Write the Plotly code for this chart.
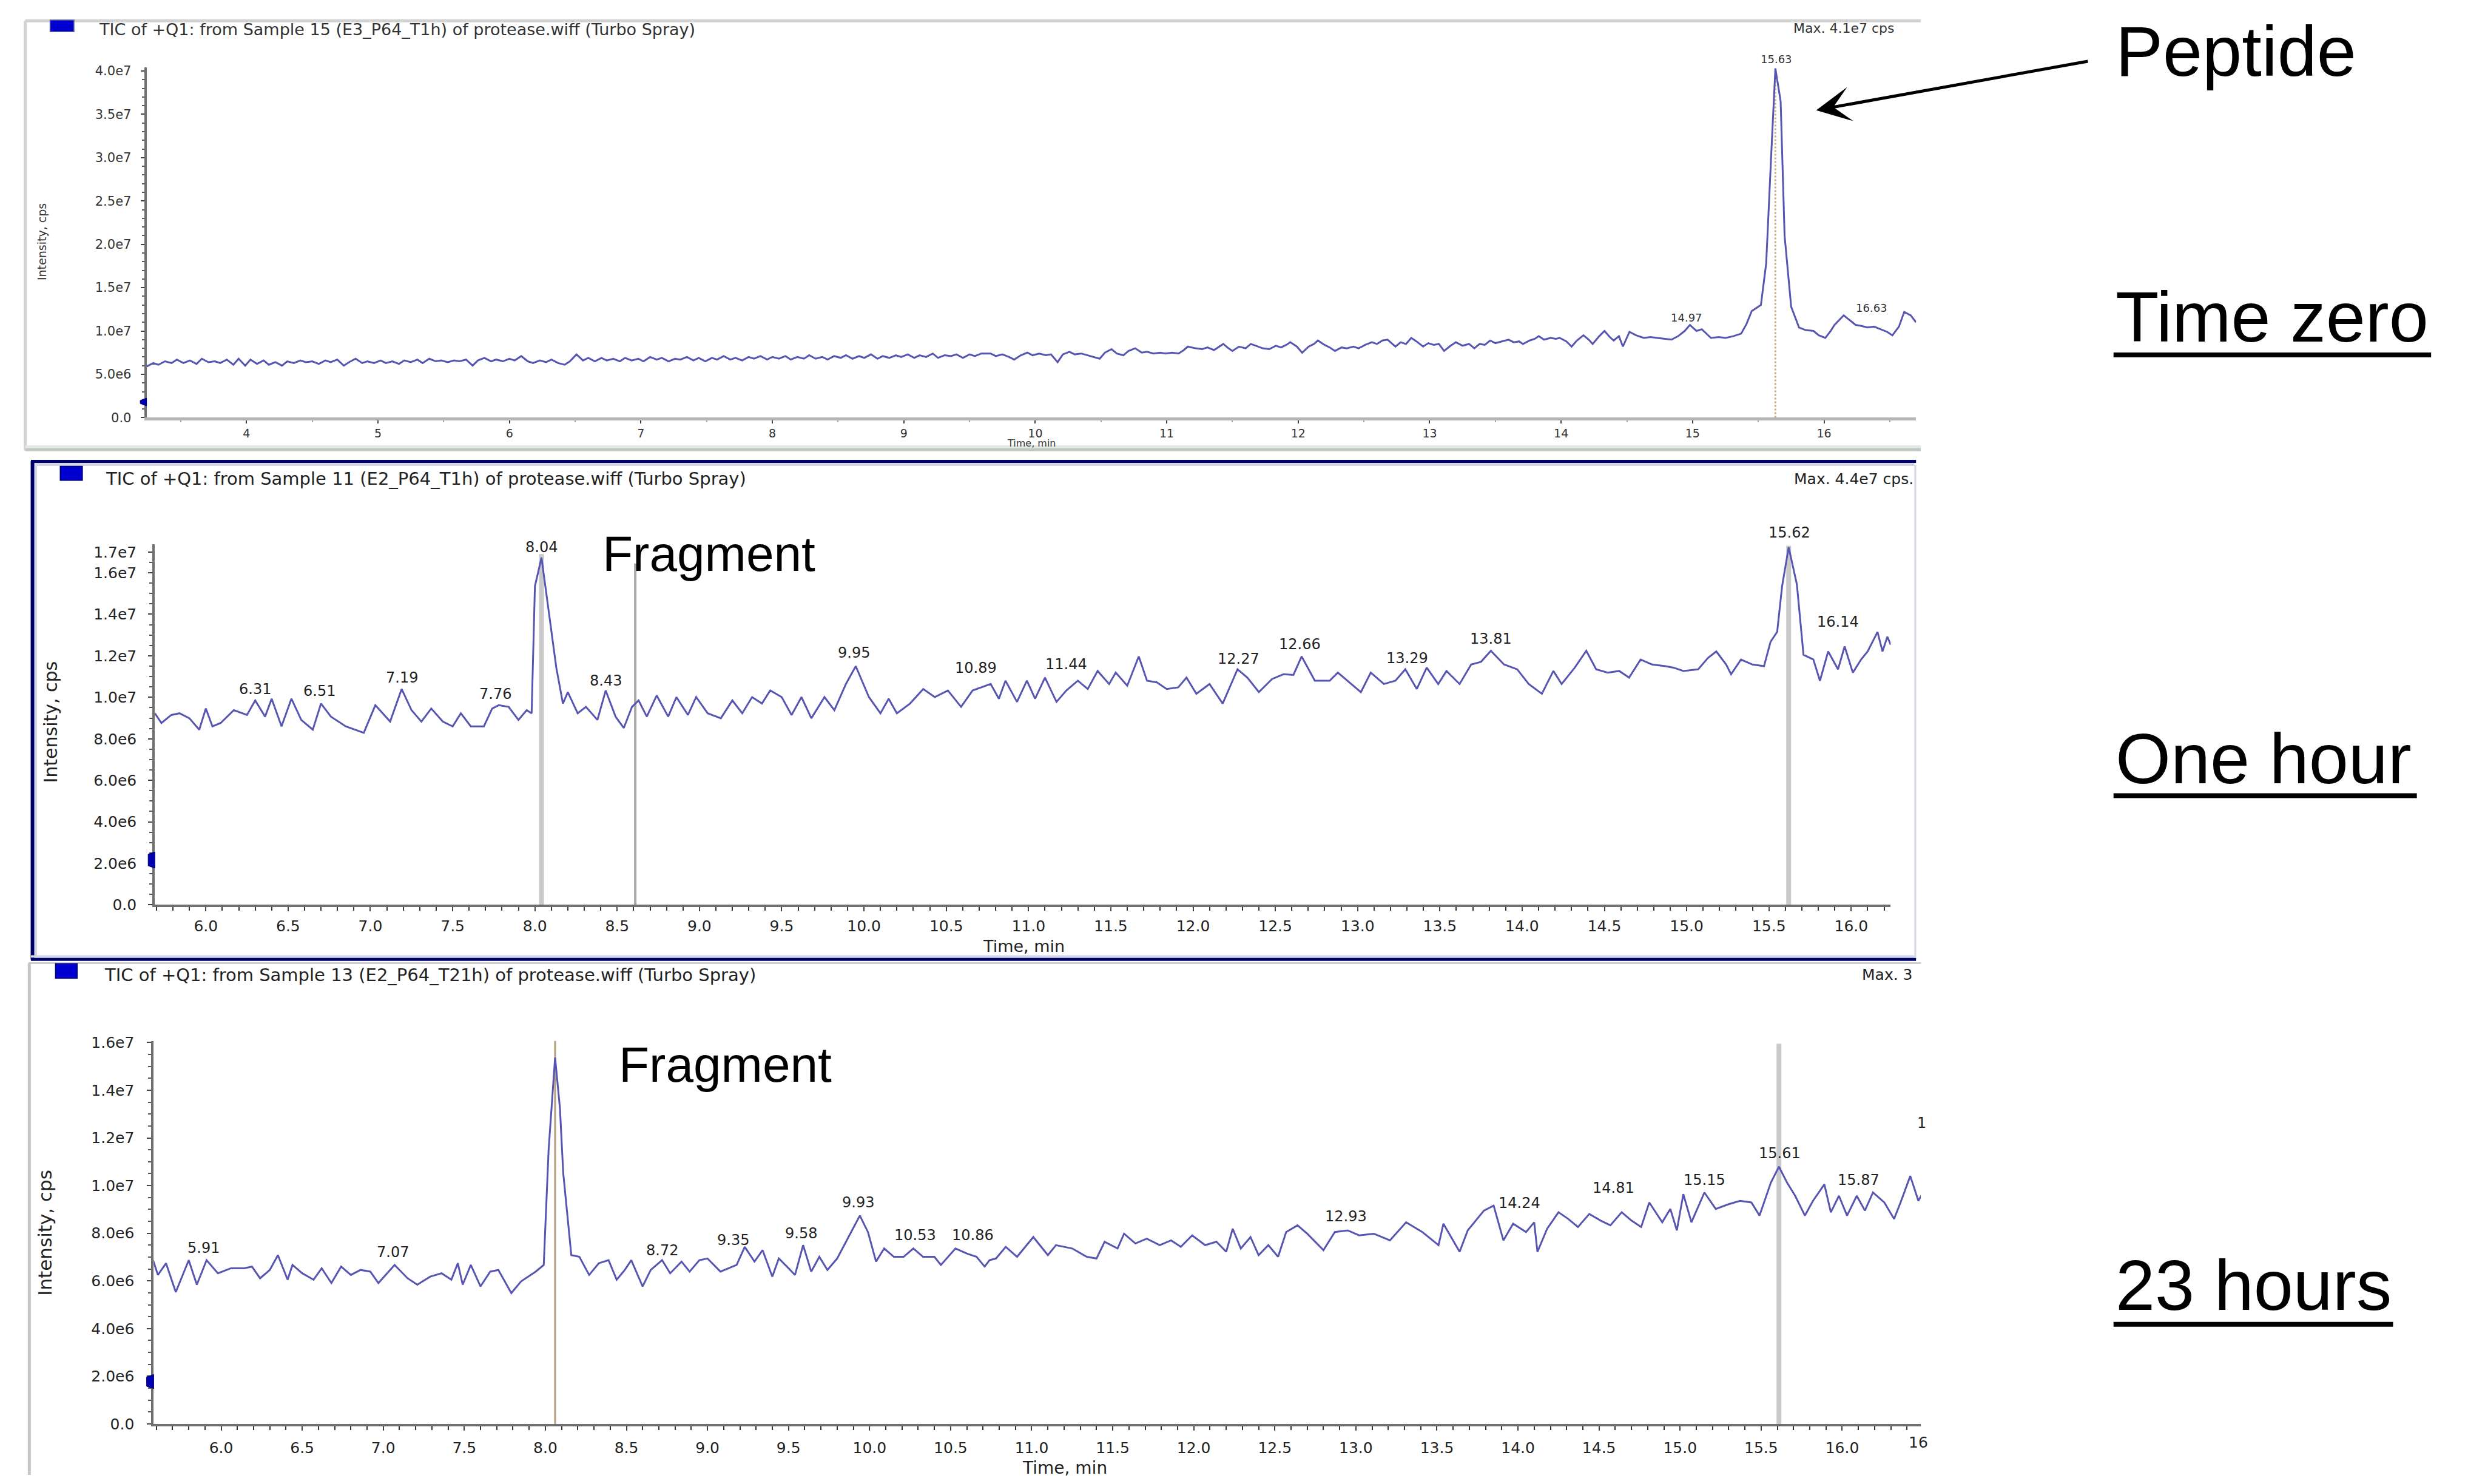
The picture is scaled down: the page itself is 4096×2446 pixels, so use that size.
import plotly.graph_objects as go

# ---------------- data: retention time (min) and intensity (x1e6 cps) ----------------
p1_time = [3.24, 3.29, 3.33, 3.38, 3.43, 3.47, 3.52, 3.57, 3.62, 3.66,
           3.71, 3.76, 3.80, 3.85, 3.90, 3.94, 3.99, 4.03, 4.08, 4.13,
           4.17, 4.22, 4.27, 4.31, 4.36, 4.41, 4.45, 4.50, 4.55, 4.60,
           4.64, 4.69, 4.74, 4.78, 4.83, 4.88, 4.92, 4.97, 5.02, 5.06,
           5.11, 5.16, 5.20, 5.25, 5.30, 5.34, 5.39, 5.44, 5.48, 5.53,
           5.58, 5.62, 5.67, 5.72, 5.76, 5.81, 5.86, 5.90, 5.95, 6.00,
           6.04, 6.09, 6.14, 6.18, 6.23, 6.28, 6.32, 6.37, 6.42, 6.46,
           6.51, 6.56, 6.60, 6.65, 6.70, 6.74, 6.79, 6.84, 6.88, 6.93,
           6.98, 7.02, 7.07, 7.12, 7.16, 7.21, 7.26, 7.30, 7.35, 7.40,
           7.44, 7.49, 7.54, 7.58, 7.63, 7.68, 7.72, 7.77, 7.82, 7.86,
           7.91, 7.96, 8.00, 8.05, 8.10, 8.14, 8.19, 8.24, 8.28, 8.33,
           8.38, 8.42, 8.47, 8.52, 8.56, 8.61, 8.66, 8.70, 8.75, 8.80,
           8.84, 8.89, 8.94, 8.98, 9.03, 9.08, 9.12, 9.17, 9.22, 9.26,
           9.31, 9.36, 9.40, 9.45, 9.50, 9.54, 9.59, 9.66, 9.70, 9.75,
           9.80, 9.84, 9.89, 9.94, 9.98, 10.03, 10.08, 10.12, 10.17, 10.21,
           10.26, 10.30, 10.35, 10.40, 10.44, 10.49, 10.53, 10.58, 10.62, 10.67,
           10.71, 10.76, 10.81, 10.85, 10.90, 10.95, 10.99, 11.04, 11.09, 11.13,
           11.16, 11.22, 11.27, 11.31, 11.36, 11.40, 11.43, 11.47, 11.50, 11.55,
           11.60, 11.64, 11.69, 11.73, 11.78, 11.83, 11.87, 11.91, 11.94, 11.99,
           12.03, 12.08, 12.12, 12.15, 12.20, 12.24, 12.28, 12.33, 12.37, 12.42,
           12.46, 12.51, 12.56, 12.60, 12.64, 12.68, 12.71, 12.74, 12.78, 12.82,
           12.86, 12.90, 12.95, 12.99, 13.03, 13.07, 13.11, 13.16, 13.20, 13.25,
           13.30, 13.34, 13.38, 13.42, 13.46, 13.50, 13.55, 13.60, 13.64, 13.68,
           13.71, 13.76, 13.80, 13.83, 13.87, 13.92, 13.96, 13.99, 14.04, 14.08,
           14.12, 14.17, 14.21, 14.24, 14.29, 14.33, 14.37, 14.40, 14.44, 14.47,
           14.52, 14.57, 14.63, 14.68, 14.73, 14.79, 14.84, 14.89, 14.94, 14.98,
           15.03, 15.07, 15.11, 15.14, 15.20, 15.25, 15.31, 15.37, 15.41, 15.45,
           15.52, 15.56, 15.60, 15.63, 15.67, 15.70, 15.75, 15.81, 15.86, 15.92,
           15.96, 16.01, 16.05, 16.08, 16.15, 16.20, 16.24, 16.28, 16.33, 16.38,
           16.43, 16.48, 16.52, 16.57, 16.61, 16.66, 16.70]
p1_int = [5.9, 6.3, 6.1, 6.5, 6.3, 6.7, 6.3, 6.6, 6.2, 6.8,
          6.4, 6.5, 6.3, 6.7, 6.1, 6.8, 6.0, 6.7, 6.2, 6.6,
          6.1, 6.4, 6.0, 6.5, 6.3, 6.6, 6.4, 6.5, 6.2, 6.6,
          6.4, 6.7, 6.0, 6.4, 6.8, 6.3, 6.5, 6.3, 6.6, 6.3,
          6.5, 6.2, 6.6, 6.4, 6.7, 6.3, 6.8, 6.5, 6.6, 6.4,
          6.6, 6.5, 6.7, 6.0, 6.6, 6.9, 6.5, 6.7, 6.5, 6.8,
          6.6, 7.1, 6.5, 6.3, 6.6, 6.4, 6.7, 6.3, 6.1, 6.5,
          7.3, 6.6, 6.9, 6.5, 6.9, 6.6, 6.8, 6.5, 6.9, 6.6,
          6.8, 6.5, 7.0, 6.7, 6.9, 6.5, 6.8, 6.7, 7.0, 6.6,
          6.9, 6.5, 6.9, 6.7, 7.1, 6.7, 6.9, 6.6, 7.0, 6.8,
          7.1, 6.7, 7.0, 6.8, 7.1, 6.7, 7.0, 6.8, 7.2, 6.8,
          7.0, 6.7, 7.1, 6.9, 7.2, 6.8, 7.1, 6.9, 7.3, 6.8,
          7.1, 6.9, 7.2, 7.0, 7.3, 6.9, 7.2, 7.0, 7.4, 6.9,
          7.2, 7.1, 7.3, 6.9, 7.3, 7.1, 7.4, 7.4, 7.1, 7.3,
          7.0, 6.7, 7.2, 7.5, 7.2, 7.4, 7.2, 7.3, 6.4, 7.3,
          7.6, 7.3, 7.4, 7.2, 7.0, 6.8, 7.5, 7.9, 7.4, 7.2,
          7.7, 8.0, 7.5, 7.6, 7.4, 7.5, 7.4, 7.5, 7.4, 7.8,
          8.2, 8.0, 7.9, 8.1, 7.8, 8.2, 8.5, 8.0, 7.7, 8.2,
          8.0, 8.5, 8.2, 8.0, 7.9, 8.3, 8.1, 8.4, 8.7, 8.2,
          7.5, 8.2, 8.5, 8.9, 8.4, 8.1, 7.7, 8.1, 8.0, 8.2,
          8.0, 8.4, 8.7, 8.5, 8.9, 9.0, 8.6, 8.2, 8.7, 8.5,
          9.2, 8.8, 8.2, 8.6, 8.4, 8.5, 7.7, 8.3, 8.7, 8.3,
          8.5, 8.0, 8.5, 8.4, 8.9, 8.6, 8.8, 9.0, 8.7, 8.8,
          8.5, 8.9, 9.1, 9.4, 9.0, 9.2, 9.1, 9.2, 8.8, 8.2,
          8.9, 9.5, 9.0, 8.5, 9.4, 10.0, 9.3, 8.9, 9.4, 8.2,
          9.9, 9.5, 9.2, 9.3, 9.2, 9.1, 9.0, 9.4, 10.0, 10.7,
          10.0, 10.2, 9.6, 9.2, 9.3, 9.2, 9.4, 9.7, 10.8, 12.3,
          13.0, 17.8, 30.9, 40.3, 36.5, 21.0, 12.8, 10.4, 10.1, 10.0,
          9.5, 9.2, 10.0, 10.7, 11.8, 11.2, 10.7, 10.6, 10.4, 10.5,
          10.2, 9.9, 9.5, 10.5, 12.2, 11.8, 11.0]

p2_time = [5.69, 5.73, 5.79, 5.84, 5.90, 5.96, 6.00, 6.04, 6.09, 6.17,
           6.25, 6.30, 6.36, 6.40, 6.46, 6.52, 6.58, 6.65, 6.70, 6.76,
           6.85, 6.96, 7.03, 7.12, 7.19, 7.25, 7.31, 7.37, 7.44, 7.50,
           7.55, 7.61, 7.69, 7.74, 7.78, 7.84, 7.90, 7.95, 7.98, 8.00,
           8.04, 8.08, 8.13, 8.17, 8.20, 8.26, 8.31, 8.38, 8.43, 8.49,
           8.54, 8.59, 8.63, 8.68, 8.74, 8.81, 8.86, 8.93, 8.98, 9.05,
           9.13, 9.20, 9.26, 9.32, 9.38, 9.43, 9.50, 9.56, 9.62, 9.68,
           9.76, 9.82, 9.89, 9.95, 10.03, 10.10, 10.15, 10.20, 10.28, 10.36,
           10.43, 10.51, 10.59, 10.66, 10.77, 10.82, 10.86, 10.93, 10.99, 11.04,
           11.10, 11.17, 11.23, 11.30, 11.36, 11.42, 11.49, 11.53, 11.60, 11.67,
           11.72, 11.78, 11.84, 11.91, 11.96, 12.02, 12.10, 12.18, 12.27, 12.33,
           12.40, 12.48, 12.55, 12.61, 12.66, 12.74, 12.83, 12.88, 12.96, 13.02,
           13.08, 13.16, 13.23, 13.29, 13.36, 13.42, 13.49, 13.54, 13.62, 13.69,
           13.75, 13.81, 13.89, 13.97, 14.04, 14.12, 14.19, 14.24, 14.32, 14.39,
           14.45, 14.52, 14.59, 14.65, 14.72, 14.79, 14.87, 14.92, 14.98, 15.07,
           15.13, 15.18, 15.24, 15.27, 15.33, 15.40, 15.47, 15.51, 15.55, 15.58,
           15.62, 15.67, 15.71, 15.77, 15.81, 15.86, 15.92, 15.96, 16.01, 16.06,
           16.10, 16.16, 16.19, 16.22, 16.24]
p2_int = [9.23, 8.76, 9.15, 9.23, 8.99, 8.44, 9.46, 8.60, 8.76, 9.38,
          9.15, 9.85, 9.07, 9.93, 8.60, 9.93, 8.91, 8.44, 9.70, 9.07,
          8.60, 8.29, 9.62, 8.83, 10.40, 9.38, 8.83, 9.46, 8.83, 8.60,
          9.23, 8.60, 8.60, 9.46, 9.62, 9.54, 8.91, 9.38, 9.23, 15.35,
          16.73, 14.41, 11.43, 9.70, 10.25, 9.23, 9.54, 8.91, 10.33, 9.07,
          8.52, 9.54, 9.85, 9.07, 10.09, 9.07, 10.01, 9.15, 10.01, 9.23,
          8.99, 9.85, 9.23, 10.01, 9.70, 10.33, 10.01, 9.15, 10.01, 8.99,
          10.01, 9.38, 10.64, 11.50, 10.01, 9.23, 9.93, 9.23, 9.70, 10.40,
          10.01, 10.33, 9.54, 10.33, 10.64, 9.93, 10.80, 9.78, 10.80, 9.93,
          10.95, 9.78, 10.33, 10.80, 10.40, 11.27, 10.64, 11.19, 10.56, 11.97,
          10.80, 10.72, 10.40, 10.48, 10.95, 10.17, 10.64, 9.70, 11.35, 10.95,
          10.25, 10.88, 11.11, 11.08, 11.97, 10.80, 10.80, 11.19, 10.64, 10.25,
          11.19, 10.64, 10.80, 11.35, 10.40, 11.43, 10.64, 11.27, 10.64, 11.58,
          11.71, 12.24, 11.58, 11.35, 10.64, 10.17, 11.27, 10.64, 11.43, 12.24,
          11.35, 11.19, 11.27, 10.95, 11.82, 11.58, 11.50, 11.43, 11.27, 11.35,
          11.90, 12.21, 11.58, 11.11, 11.82, 11.58, 11.50, 12.68, 13.15, 15.35,
          17.23, 15.43, 12.05, 11.82, 10.80, 12.21, 11.35, 12.45, 11.19, 11.82,
          12.21, 13.15, 12.21, 12.92, 12.53]

p3_time = [5.58, 5.61, 5.66, 5.72, 5.80, 5.85, 5.91, 5.98, 6.06, 6.14,
           6.19, 6.24, 6.30, 6.35, 6.41, 6.44, 6.50, 6.57, 6.62, 6.68,
           6.74, 6.80, 6.86, 6.92, 6.97, 7.07, 7.15, 7.21, 7.29, 7.36,
           7.42, 7.46, 7.49, 7.54, 7.60, 7.66, 7.71, 7.79, 7.85, 7.94,
           7.99, 8.02, 8.06, 8.09, 8.11, 8.16, 8.21, 8.27, 8.33, 8.39,
           8.44, 8.49, 8.53, 8.60, 8.65, 8.72, 8.77, 8.84, 8.89, 8.95,
           9.00, 9.08, 9.18, 9.23, 9.29, 9.34, 9.40, 9.44, 9.49, 9.54,
           9.59, 9.64, 9.69, 9.74, 9.80, 9.86, 9.94, 9.99, 10.04, 10.09,
           10.15, 10.21, 10.27, 10.33, 10.40, 10.44, 10.53, 10.60, 10.66, 10.71,
           10.74, 10.78, 10.84, 10.91, 11.01, 11.10, 11.15, 11.25, 11.34, 11.40,
           11.45, 11.53, 11.57, 11.64, 11.71, 11.79, 11.86, 11.92, 11.99, 12.07,
           12.14, 12.20, 12.24, 12.29, 12.35, 12.40, 12.46, 12.52, 12.57, 12.64,
           12.70, 12.80, 12.87, 12.95, 13.02, 13.11, 13.21, 13.31, 13.41, 13.51,
           13.54, 13.64, 13.69, 13.79, 13.85, 13.91, 13.97, 14.05, 14.10, 14.12,
           14.18, 14.25, 14.31, 14.37, 14.44, 14.51, 14.57, 14.64, 14.70, 14.76,
           14.81, 14.89, 14.94, 14.98, 15.02, 15.07, 15.15, 15.22, 15.30, 15.37,
           15.44, 15.49, 15.56, 15.61, 15.66, 15.71, 15.77, 15.82, 15.89, 15.93,
           15.98, 16.03, 16.09, 16.14, 16.19, 16.26, 16.32, 16.36, 16.42, 16.47,
           16.49]
p3_int = [6.87, 6.25, 6.74, 5.53, 6.87, 5.84, 6.87, 6.32, 6.53, 6.53,
          6.60, 6.11, 6.46, 7.08, 6.05, 6.67, 6.32, 6.05, 6.53, 5.91,
          6.60, 6.25, 6.46, 6.39, 5.91, 6.67, 6.11, 5.84, 6.18, 6.32,
          6.05, 6.74, 5.84, 6.67, 5.77, 6.39, 6.46, 5.49, 5.98, 6.39,
          6.67, 11.50, 15.37, 13.23, 10.54, 7.08, 7.01, 6.25, 6.74, 6.87,
          6.05, 6.46, 6.87, 5.77, 6.46, 6.87, 6.32, 6.81, 6.39, 6.87,
          6.94, 6.39, 6.67, 7.43, 6.81, 7.29, 6.18, 6.94, 6.60, 6.25,
          7.50, 6.39, 7.01, 6.46, 6.94, 7.70, 8.74, 8.05, 6.81, 7.36,
          7.01, 7.01, 7.36, 7.01, 7.01, 6.67, 7.36, 7.15, 7.01, 6.60,
          6.87, 6.94, 7.43, 7.01, 7.84, 7.08, 7.50, 7.36, 7.01, 6.94,
          7.64, 7.36, 7.98, 7.57, 7.77, 7.50, 7.70, 7.43, 7.91, 7.50,
          7.64, 7.22, 8.19, 7.36, 7.84, 7.08, 7.50, 7.01, 8.05, 8.33,
          7.98, 7.29, 8.05, 8.12, 7.91, 7.98, 7.70, 8.46, 8.05, 7.50,
          8.40, 7.22, 8.12, 8.95, 9.16, 7.70, 8.40, 8.05, 8.46, 7.22,
          8.19, 8.88, 8.60, 8.26, 8.81, 8.53, 8.33, 8.88, 8.53, 8.26,
          9.29, 8.46, 9.02, 8.12, 9.64, 8.46, 9.71, 9.02, 9.22, 9.36,
          9.29, 8.74, 10.12, 10.79, 10.12, 9.57, 8.74, 9.36, 10.05, 8.88,
          9.57, 8.74, 9.57, 8.95, 9.71, 9.29, 8.60, 9.29, 10.40, 9.36,
          9.60]

# marked retention times (vertical cursor lines) and their top intensity
p1_marks = [15.63]
p1_mark_top = [40.3]
p2_marks = [8.04, 8.61, 15.62]
p2_mark_top = [16.9, 16.45, 17.3]
p3_marks = [8.06, 15.61]
p3_mark_top = [16.07, 15.95]

# peak labels: text, anchor time, anchor intensity
p1_labels = ["14.97", "16.63"]
p1_lab_t = [14.955, 16.36]
p1_lab_v = [11.56, 12.65]
p2_labels = ["8.04", "6.31", "6.51", "7.19", "7.76", "8.43", "9.95", "10.89",
             "11.44", "12.27", "12.66", "13.29", "13.81", "16.14"]
p2_lab_t = [8.04, 6.30, 6.69, 7.19, 7.76, 8.43, 9.94, 10.68,
            11.23, 12.275, 12.65, 13.30, 13.81, 15.92]
p2_lab_v = [17.23, 10.40, 10.29, 10.95, 10.17, 10.79, 12.14, 11.42,
            11.58, 11.86, 12.55, 11.89, 12.82, 13.62]
p3_labels = ["8.06", "5.91", "7.07", "8.72", "9.35", "9.58", "9.93", "10.53",
             "10.86", "12.93", "14.24", "14.81", "15.15", "15.61", "15.87"]
p3_lab_t = [8.046, 5.89, 7.06, 8.72, 9.157, 9.578, 9.93, 10.28,
            10.636, 12.938, 14.01, 14.59, 15.15, 15.615, 16.10]
p3_lab_v = [16.48, 7.38, 7.19, 7.29, 7.70, 7.98, 9.29, 7.91,
            7.91, 8.70, 9.26, 9.91, 10.23, 11.34, 10.23]
# labels of the tallest peaks, which sit above the top of their axes
top_labels = ["15.63", "15.62"]

titles = ["TIC of +Q1: from Sample 15 (E3_P64_T1h) of protease.wiff (Turbo Spray)",
          "TIC of +Q1: from Sample 11 (E2_P64_T1h) of protease.wiff (Turbo Spray)",
          "TIC of +Q1: from Sample 13 (E2_P64_T21h) of protease.wiff (Turbo Spray)"]
max_texts = ["Max. 4.1e7 cps", "Max. 4.4e7 cps.", "Max. 3"]
side_labels = ["Peptide", "Time zero", "One hour", "23 hours"]

p1_yticks = [0, 5, 10, 15, 20, 25, 30, 35, 40]
p1_yticktext = ["0.0", "5.0e6", "1.0e7", "1.5e7", "2.0e7", "2.5e7", "3.0e7", "3.5e7", "4.0e7"]
p1_xticks = [4, 5, 6, 7, 8, 9, 10, 11, 12, 13, 14, 15, 16]
p2_yticks = [0, 2, 4, 6, 8, 10, 12, 14, 16, 17]
p2_yticktext = ["0.0", "2.0e6", "4.0e6", "6.0e6", "8.0e6", "1.0e7", "1.2e7", "1.4e7", "1.6e7", "1.7e7"]
p3_yticks = [0, 2, 4, 6, 8, 10, 12, 14, 16]
p3_yticktext = ["0.0", "2.0e6", "4.0e6", "6.0e6", "8.0e6", "1.0e7", "1.2e7", "1.4e7", "1.6e7"]
p23_xticks = [6.0, 6.5, 7.0, 7.5, 8.0, 8.5, 9.0, 9.5, 10.0, 10.5, 11.0, 11.5,
              12.0, 12.5, 13.0, 13.5, 14.0, 14.5, 15.0, 15.5, 16.0]

UNIT = 1e6

# ---------------- layout helpers (reference picture coordinates, 1568 x 936) ----------------
W, H = 4096, 2446
def PX(s):
    return s / 1568.0
def PY(s):
    return 1.0 - s / 936.0

LINE = "#5656b2"
TXT = "#222222"
CF = "DejaVu Sans"
BIG = "Liberation Sans, Arial, sans-serif"
AXC = "#707070"

fig = go.Figure()
for tt, vv, xa, ya in [(p1_time, p1_int, "x", "y"), (p2_time, p2_int, "x2", "y2"), (p3_time, p3_int, "x3", "y3")]:
    fig.add_trace(go.Scatter(x=tt, y=[v * UNIT for v in vv], mode="lines",
                             line=dict(color=LINE, width=3), xaxis=xa, yaxis=ya,
                             hoverinfo="skip", showlegend=False))

shapes = []
# cursor lines
for t, top in zip(p1_marks, p1_mark_top):
    shapes.append(dict(type="line", xref="x", yref="y", x0=t, x1=t, y0=0, y1=top * UNIT,
                       line=dict(color="#c4b08a", width=3, dash="dot"), layer="below"))
p2_styles = [("#c9c9c9", 8), ("#a8a8a8", 4), ("#c9c9c9", 8)]
for (t, top), (c, w) in zip(zip(p2_marks, p2_mark_top), p2_styles):
    shapes.append(dict(type="line", xref="x2", yref="y2", x0=t, x1=t, y0=0, y1=top * UNIT,
                       line=dict(color=c, width=w), layer="below"))
p3_styles = [("#b49c7c", 3), ("#cacaca", 8)]
for (t, top), (c, w) in zip(zip(p3_marks, p3_mark_top), p3_styles):
    shapes.append(dict(type="line", xref="x3", yref="y3", x0=t, x1=t, y0=0, y1=top * UNIT,
                       line=dict(color=c, width=w), layer="below"))

def pline(x0, y0, x1, y1, color, width):
    shapes.append(dict(type="line", xref="paper", yref="paper", x0=PX(x0), y0=PY(y0),
                       x1=PX(x1), y1=PY(y1), line=dict(color=color, width=width)))

def prect(x0, y0, x1, y1, fill, lc):
    shapes.append(dict(type="rect", xref="paper", yref="paper", x0=PX(x0), y0=PY(y0),
                       x1=PX(x1), y1=PY(y1), fillcolor=fill, line=dict(color=lc, width=1.5)))

# panel frames
pline(16, 9, 1212, 9, "#d2d2d2", 5)
pline(16, 9, 16, 283, "#d2d2d2", 5)
pline(16, 280.6, 1212, 280.6, "#e6e6e6", 5)
pline(16, 282.4, 1212, 282.4, "#bccac0", 5)
pline(19.5, 289.9, 1209, 289.9, "#00006a", 5)
pline(21.5, 291.8, 1208, 291.8, "#d6d6e6", 5)
pline(20.5, 289.9, 20.5, 607.5, "#00006a", 6)
pline(22.6, 291.8, 22.6, 605.5, "#d6d6e6", 4)
pline(19.5, 605.5, 1208, 605.5, "#d6d6e6", 4)
pline(19.5, 607.3, 1209, 607.3, "#00006a", 5)
pline(1208.5, 292, 1208.5, 606, "#d6d6e6", 3)
pline(18, 609.8, 1212, 609.8, "#cfcfcf", 3)
pline(18.5, 609.8, 18.5, 936, "#c4c4c4", 5)

# legend squares
prect(31.6, 8.5, 46.7, 16, "#0000d0", "#6a6a9a")
prect(38, 293, 52, 302, "#0000d0", "#00006a")
prect(35, 610, 48.7, 619.4, "#0000d0", "#00006a")

# small baseline markers at left of the y axes
for (xl, xr, yt, yb) in [(88.5, 92.5, 249.5, 254.5), (93.5, 97.7, 538.8, 549.2), (92.5, 97, 872, 881)]:
    shapes.append(dict(type="path", xref="paper", yref="paper",
                       path="M %f %f L %f %f L %f %f L %f %f Z" % (PX(xl), PY(yt + 1.5), PX(xr), PY(yt),
                                                                  PX(xr), PY(yb), PX(xl), PY(yb - 1.5)),
                       fillcolor="#0000b0", line=dict(color="#00006a", width=1)))

# underlines of the side labels
pline(1333.6, 222, 1534, 222, "#000000", 8)
pline(1333.6, 503, 1525, 503, "#000000", 8)
pline(1333.6, 840, 1510, 840, "#000000", 8)

ann = []
def A(text, x, y, size, xanchor="center", yanchor="middle", family=CF, color=TXT,
      xref="paper", yref="paper", angle=0):
    ann.append(dict(text=text, x=x, y=y, xref=xref, yref=yref, xanchor=xanchor, yanchor=yanchor,
                    showarrow=False, textangle=angle, font=dict(family=family, size=size, color=color)))

# titles and max texts
A(titles[0], PX(61.5), PY(14.6), 27, xanchor="left", color="#333")
A(titles[1], PX(66), PY(301), 29, xanchor="left")
A(titles[2], PX(65), PY(617.3), 29, xanchor="left")
A(max_texts[0], PX(1131), PY(13.8), 22, xanchor="left", color="#333")
A(max_texts[1], PX(1208), PY(301), 25, xanchor="right")
A(max_texts[2], PX(1174), PY(617), 25, xanchor="left")

# axis titles
A("Intensity, cps", PX(26.5), PY(150), 19, angle=-90, color="#333")
A("Intensity, cps", PX(32), PY(456), 30, angle=-90)
A("Intensity, cps", PX(28), PY(781.5), 31, angle=-90)
A("Time, min", PX(651), PY(278.2), 16, color="#333")
A("Time, min", PX(646), PY(599), 27)
A("Time, min", PX(672), PY(931.5), 28)

# peak labels
for s, t, v in zip(p1_labels, p1_lab_t, p1_lab_v):
    A(s, t, v * UNIT, 18, xref="x", yref="y", color="#333")
for s, t, v in zip(p2_labels, p2_lab_t, p2_lab_v):
    A(s, t, v * UNIT, 24, xref="x2", yref="y2")
for s, t, v in zip(p3_labels, p3_lab_t, p3_lab_v):
    A(s, t, v * UNIT, 24, xref="x3", yref="y3")
A(top_labels[0], PX(1120.8), PY(33.3), 18, color="#333")
A(top_labels[1], PX(1129), PY(335.3), 24)
# truncated labels at the right edge of the bottom panel
A("16", PX(1203.5), PY(915.5), 25, xanchor="left")
A("1", PX(1209), PY(711.8), 24, xanchor="left")

# Fragment texts
A("Fragment", PX(447.5), PY(348.5), 82, family=BIG, color="#000")
A("Fragment", PX(457.5), PY(674.4), 82, family=BIG, color="#000")

# side labels
A(side_labels[0], PX(1334), PY(28.4), 117, xanchor="left", family=BIG, color="#000")
A(side_labels[1], PX(1334), PY(198), 117, xanchor="left", family=BIG, color="#000")
A(side_labels[2], PX(1334), PY(479.5), 117, xanchor="left", family=BIG, color="#000")
A(side_labels[3], PX(1334), PY(815), 117, xanchor="left", family=BIG, color="#000")

# arrow to the peptide peak
ann.append(dict(text="", x=PX(1146), y=PY(66), xref="paper", yref="paper",
                ax=(1318 - 1146) * W / 1568.0, ay=(35 - 66) * W / 1568.0,
                axref="pixel", ayref="pixel", showarrow=True, arrowhead=3,
                arrowsize=1.9, arrowwidth=5, arrowcolor="#000", standoff=0))

def xax(domain, rng, ticks, fs, lw, lcolor, minor_vals=None, minor_dtick=None, standoff=4, tlen=7,
        fmt="%.1f", minor_color="#333"):
    d = dict(domain=domain, range=rng, tickvals=ticks, ticktext=[fmt % v for v in ticks],
             ticks="outside", ticklen=tlen, tickwidth=2, tickcolor="#444", showline=True,
             linecolor=lcolor, linewidth=lw, showgrid=False, zeroline=False, fixedrange=True,
             tickfont=dict(family=CF, size=fs, color=TXT if fs >= 22 else "#333"),
             ticklabelstandoff=standoff)
    if minor_vals is not None:
        d["minor"] = dict(tickvals=minor_vals, ticks="outside", ticklen=tlen - 2, tickwidth=2, tickcolor=minor_color)
    if minor_dtick is not None:
        d["minor"] = dict(dtick=minor_dtick, tick0=0, ticks="outside", ticklen=tlen - 1, tickwidth=2, tickcolor=minor_color)
    return d

def yax(domain, rng, ticks, text, fs, minor_dtick, standoff, tlen=7):
    return dict(domain=domain, range=[r * UNIT for r in rng], tickvals=[t * UNIT for t in ticks], ticktext=text,
                ticks="outside", ticklen=tlen, tickwidth=2, tickcolor="#444", showline=True,
                linecolor=AXC, linewidth=4, showgrid=False, zeroline=False, fixedrange=True,
                tickfont=dict(family=CF, size=fs, color=TXT if fs >= 22 else "#333"),
                ticklabelstandoff=standoff,
                minor=dict(dtick=minor_dtick * UNIT, tick0=0, ticks="outside", ticklen=tlen - 2,
                           tickwidth=2, tickcolor="#555"))

p1_minor = [v + 0.5 for v in [3] + p1_xticks]

fig.update_layout(
    width=W, height=H, margin=dict(l=0, r=0, t=0, b=0),
    paper_bgcolor="white", plot_bgcolor="white", showlegend=False,
    xaxis=dict(xax([PX(92.5), PX(1209)], [3.24, 16.70], p1_xticks, 19, 5, "#b4b4b4", minor_vals=p1_minor,
                   standoff=0, tlen=5, fmt="%d", minor_color="#aaaaaa"), anchor="y"),
    yaxis=dict(yax([PY(262), PY(38.5)], [0, 40.45], p1_yticks, p1_yticktext, 21, 1, 11, tlen=6), anchor="x"),
    xaxis2=dict(xax([PX(97.7), PX(1193)], [5.69, 16.24], p23_xticks, 25, 4, AXC, minor_dtick=0.1, standoff=3), anchor="y2"),
    yaxis2=dict(yax([PY(572.6), PY(342.5)], [0, 17.39], p2_yticks, p2_yticktext, 25, 0.5, 14), anchor="x2"),
    xaxis3=dict(xax([PX(97), PX(1212)], [5.584, 16.485], p23_xticks, 25, 4, AXC, minor_dtick=0.1, standoff=7), anchor="y3"),
    yaxis3=dict(yax([PY(903.5), PY(659.3)], [0, 16.07], p3_yticks, p3_yticktext, 25, 0.5, 16), anchor="x3"),
    shapes=shapes, annotations=ann,
)

fig.write_html("out.html", config={"displayModeBar": False, "staticPlot": True},
               post_script="document.body.style.margin='0px';document.body.style.overflow='hidden';")
